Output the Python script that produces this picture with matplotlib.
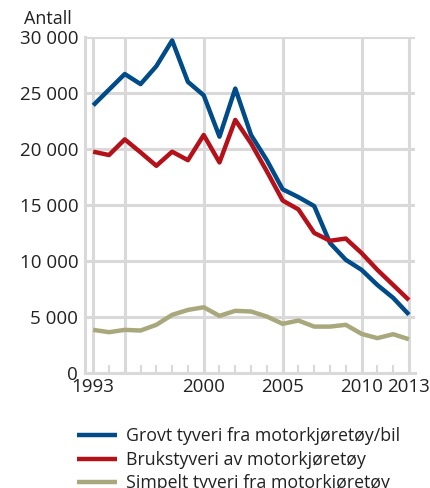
import numpy as np
import matplotlib
matplotlib.use("Agg")
import matplotlib.pyplot as plt
from matplotlib.ticker import FuncFormatter

# Data (number of thefts)
years = list(range(1993, 2014))
grovt = [23900, 25300, 26700, 25800, 27400, 29700, 26000, 24800, 21100, 25400, 21250,
         19000, 16400, 15700, 14900, 11600, 10100, 9200, 7850, 6700, 5200]
bruk = [19760, 19460, 20860, 19700, 18500, 19760, 19000, 21250, 18800, 22600, 20500,
        18000, 15400, 14600, 12500, 11800, 12000, 10700, 9200, 7850, 6500]
simpelt = [3840, 3630, 3840, 3780, 4290, 5180, 5620, 5860, 5090, 5540, 5480,
           5030, 4380, 4670, 4130, 4130, 4290, 3480, 3100, 3450, 3000]
labels = ["Grovt tyveri fra motorkjøretøy/bil", "Brukstyveri av motorkjøretøy",
          "Simpelt tyveri fra motorkjøretøy"]
colors = ["#004b88", "#b3121b", "#a9a87c"]

plt.rcParams['font.family'] = ['Open Sans', 'DejaVu Sans']
grid_c = "#d9d9d9"
txt_c = "#222222"

fig = plt.figure(figsize=(4.3, 4.88), dpi=100)
ax = fig.add_axes([0.198, 0.236, 0.767, 0.688])

for yv in range(0, 30001, 5000):
    ax.axhline(yv, color=grid_c, lw=2.2, zorder=1)
for xv in [1993, 1995, 2000, 2005, 2010, 2013]:
    ax.axvline(xv, color=grid_c, lw=2.2, zorder=1)

for series, lab, c in zip([grovt, bruk, simpelt], labels, colors):
    ax.plot(years, series, color=c, lw=3.2, label=lab, zorder=3, solid_capstyle='butt')

ax.set_xlim(1992.49, 2013.38)
ax.set_ylim(0, 30000)
ax.set_yticks(range(0, 30001, 5000))
ax.yaxis.set_major_formatter(FuncFormatter(lambda v, p: f"{int(v):,}".replace(",", " ")))
ax.set_xticks([1993, 2000, 2005, 2010, 2013])
ax.set_xticks(years, minor=True)
ax.tick_params(axis='y', length=0, labelsize=13.5, pad=5, colors=txt_c)
ax.tick_params(axis='x', which='major', length=0, labelsize=13.5, pad=4, colors=txt_c)
ax.tick_params(axis='x', which='minor', direction='in', length=6, width=1.5, color=grid_c)

for s in ['top', 'right']:
    ax.spines[s].set_visible(False)
for s in ['left', 'bottom']:
    ax.spines[s].set_color(grid_c)
    ax.spines[s].set_linewidth(2.2)

fig.text(0.056, 0.962, "Antall", fontsize=13, color=txt_c, va='center', ha='left')

fig.legend(loc='upper left', bbox_to_anchor=(0.178, 0.124), frameon=False, fontsize=12.8,
           handlelength=2.3, handletextpad=0.5, labelspacing=0.3, borderaxespad=0,
           borderpad=0, labelcolor=txt_c)

fig.savefig("out.png", dpi=100)
